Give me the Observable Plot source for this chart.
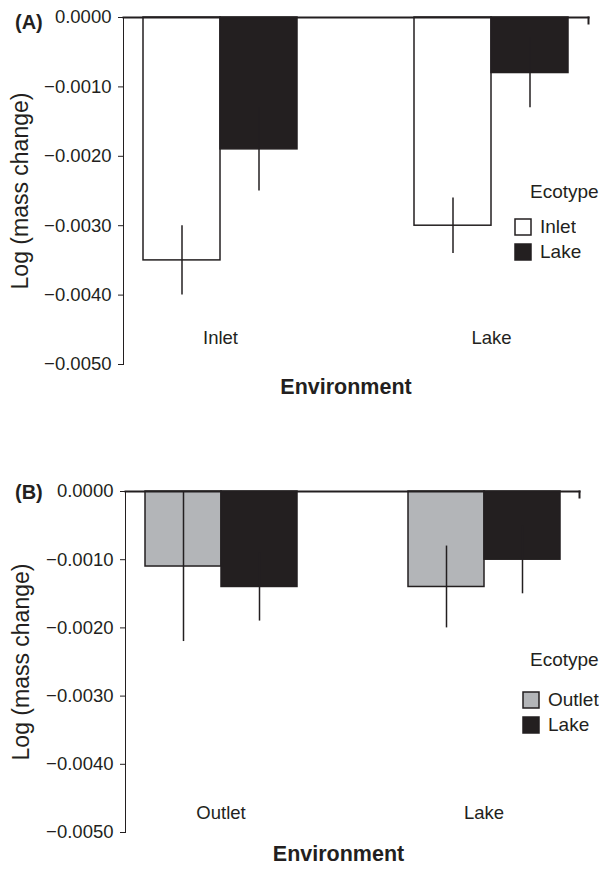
<!DOCTYPE html>
<html><head><meta charset="utf-8">
<script src="https://cdn.jsdelivr.net/npm/d3@7"></script>
<script src="https://cdn.jsdelivr.net/npm/@observablehq/plot@0.6"></script>
<style>
body{margin:0;background:#fff;font-family:"Liberation Sans",Arial,sans-serif;color:#231f20}
.panel{position:relative;width:601px;overflow:hidden}
.panel svg{display:block}
.tag{position:absolute;left:15px;font-weight:bold;font-size:20px;line-height:24px}
.leg{position:absolute;font-size:19px;line-height:22px}
.leg .ttl{line-height:22px}
.eco-swatch{padding-bottom:3px;line-height:22px}
.eco-swatch svg{margin-right:9px;overflow:visible}
.eco-swatch svg rect{stroke:#231f20;stroke-width:1.5px}
g[aria-label="y-axis label"]{font-size:23px}
</style></head><body>
<div id="panelA" class="panel" style="height:410px"></div>
<div id="panelB" class="panel" style="height:460px"></div>
<script>
// ---- data ----
const envA = ["Inlet", "Lake"];
const ecoA = ["Inlet", "Lake"];
const meanA = [[-0.0035, -0.0019], [-0.0030, -0.0008]]; // [environment][ecotype]
const seA   = [[0.0005, 0.0006], [0.0004, 0.0005]];
const envB = ["Outlet", "Lake"];
const ecoB = ["Outlet", "Lake"];
const meanB = [[-0.0011, -0.0014], [-0.0014, -0.0010]];
const seB   = [[0.0011, 0.0005], [0.0006, 0.0005]];
const yTicks = [0, -0.001, -0.002, -0.003, -0.004, -0.005];
const yLabel = "Log (mass change)";
const xLabel = "Environment";
const legendTitle = "Ecotype";
const panelTags = ["(A)", "(B)"];

const INK = "#231f20";
const FONT = '"Liberation Sans", Arial, sans-serif';

function rows(envs, ecos, means, ses) {
  return envs.flatMap((env, i) => ecos.map((eco, j) => ({
    env, eco, value: means[i][j], lo: means[i][j] - ses[i][j], hi: means[i][j] + ses[i][j]
  })));
}

function panel(cfg) {
  const data = rows(cfg.envs, cfg.ecos, cfg.means, cfg.ses);
  return Plot.plot({
    width: 601, height: cfg.height,
    marginTop: cfg.mt, marginBottom: cfg.mb, marginLeft: cfg.ml, marginRight: cfg.mr,
    style: {fontFamily: FONT, fontSize: "18.5px", color: INK, background: "transparent"},
    fx: {domain: cfg.envs, paddingInner: cfg.fxPad, paddingOuter: 0, axis: null},
    x: {domain: cfg.ecos, paddingInner: 0, paddingOuter: cfg.xPad, axis: null},
    y: {domain: [-0.005, 0], ticks: yTicks, tickFormat: d3.format(".4f"), tickSize: 5, tickPadding: 7,
        line: true, label: yLabel, labelAnchor: "center", labelOffset: cfg.labelOffset, labelArrow: "none"},
    color: {domain: cfg.ecos, range: cfg.colors},
    marks: [
      Plot.barY(data, {fx: "env", x: "eco", y: "value", fill: "eco", stroke: INK, strokeWidth: 1.5}),
      Plot.ruleX(data, {fx: "env", x: "eco", y1: "lo", y2: "hi", stroke: INK, strokeWidth: 1.5}),
      Plot.frame({facet: "super", anchor: "top", stroke: INK, strokeWidth: 2}),
      Plot.frame({facet: "super", anchor: "right", stroke: INK, strokeWidth: 2, insetBottom: cfg.frameH - 6}),
      Plot.text(cfg.envs, {fx: d => d, text: d => d, frameAnchor: "bottom", dy: cfg.catDy, fill: INK}),
      Plot.text([xLabel], {facet: "super", text: d => d, frameAnchor: "bottom", dy: cfg.titleDy, dx: cfg.titleDx,
        fontWeight: "bold", fontSize: 21.5, fill: INK})
    ]
  });
}

function addPanel(el, cfg, tag, tagTop, leg) {
  const chart = panel(cfg);
  el.appendChild(chart);
  const t = document.createElement("div");
  t.className = "tag"; t.style.top = tagTop + "px"; t.textContent = tag;
  el.appendChild(t);
  const wrap = document.createElement("div");
  wrap.className = "leg";
  wrap.style.left = leg.left + "px"; wrap.style.top = leg.top + "px";
  const ttl = document.createElement("div");
  ttl.className = "ttl"; ttl.textContent = legendTitle;
  ttl.style.paddingLeft = leg.indent + "px"; ttl.style.marginBottom = leg.gap + "px";
  wrap.appendChild(ttl);
  const sw = chart.legend("color", {columns: 1, swatchSize: 16, className: "eco", marginLeft: 0});
  sw.style.fontSize = "19px"; sw.style.fontFamily = FONT; sw.style.margin = "0"; sw.style.color = INK;
  wrap.appendChild(sw);
  el.appendChild(wrap);
}

addPanel(document.getElementById("panelA"), {
  envs: envA, ecos: ecoA, means: meanA, ses: seA, colors: ["#ffffff", INK],
  height: 410, mt: 17, mb: 46, ml: 122, mr: 12, frameH: 347,
  fxPad: 0.283, xPad: 0.258, labelOffset: 112, catDy: -21, titleDy: 29, titleDx: -10
}, panelTags[0], 10, {left: 515, top: 181, indent: 15, gap: 13});

addPanel(document.getElementById("panelB"), {
  envs: envB, ecos: ecoB, means: meanB, ses: seB, colors: ["#b3b5b8", INK],
  height: 460, mt: 81, mb: 38, ml: 125, mr: 22, frameH: 341,
  fxPad: 0.274, xPad: 0.248, labelOffset: 113, catDy: -14, titleDy: 28, titleDx: -14
}, panelTags[1], 70, {left: 523, top: 239, indent: 7, gap: 18});
</script>
</body></html>
